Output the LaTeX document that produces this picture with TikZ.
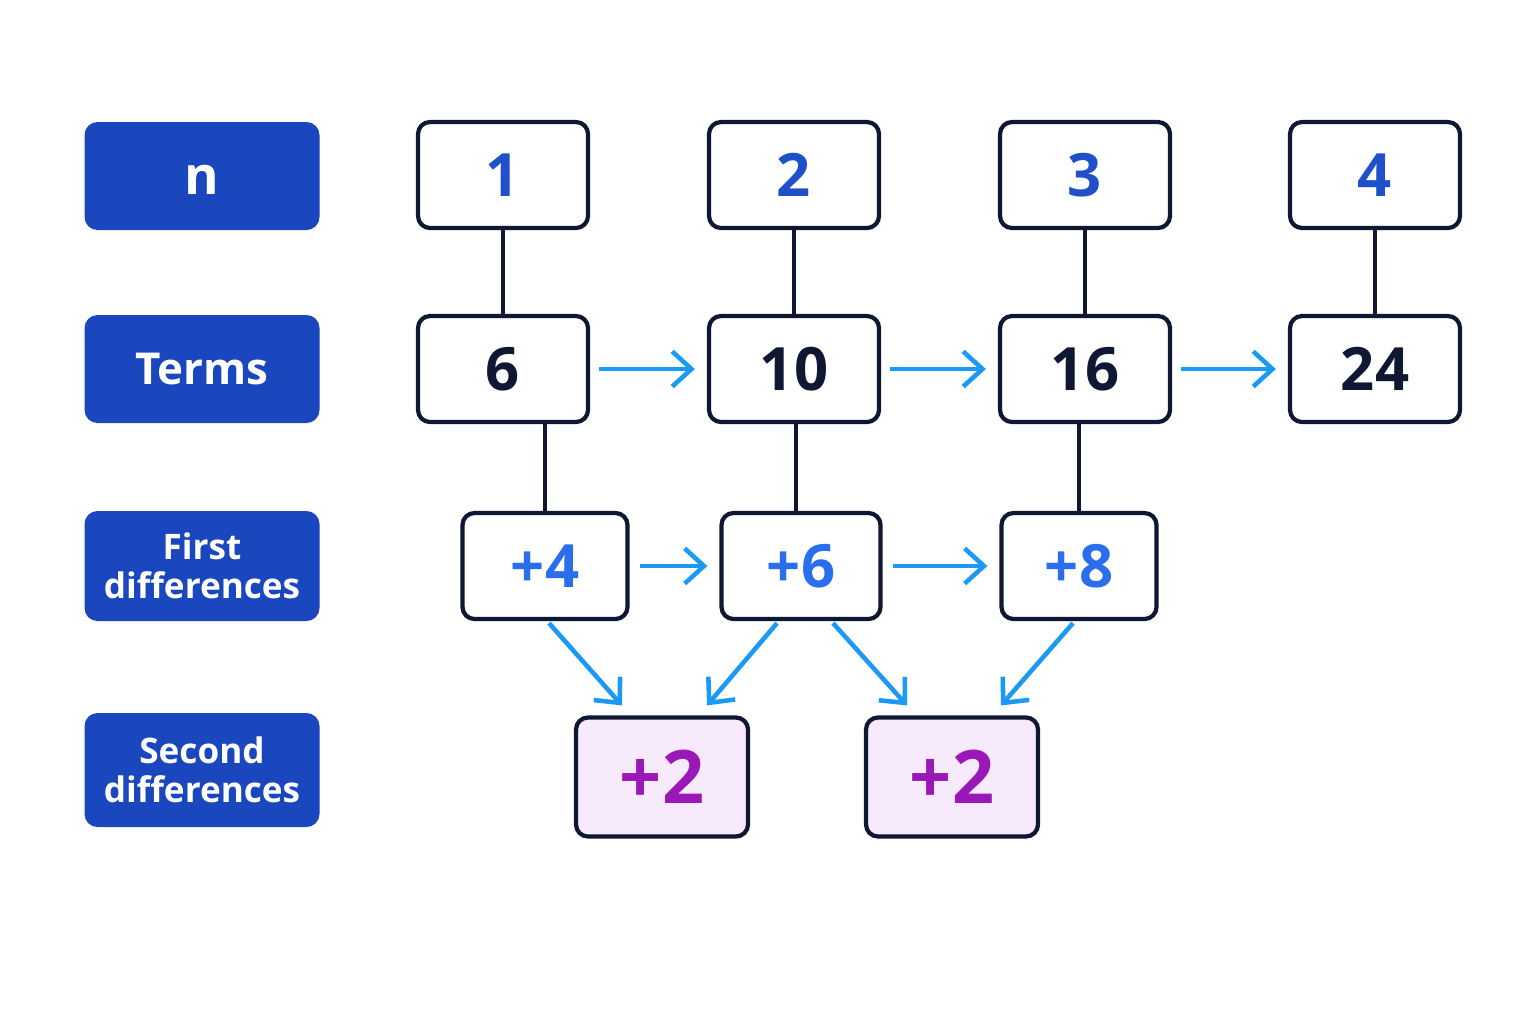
\documentclass[tikz,border=0pt]{standalone}
\usepackage{fontspec}
\setmainfont{Open Sans}
\usepackage{tikz}
\usetikzlibrary{arrows.meta}
\usetikzlibrary{calc}

\definecolor{labelblue}{HTML}{1A47BE}
\definecolor{nblue}{HTML}{1F4FC9}
\definecolor{diffblue}{HTML}{2A6EEE}
\definecolor{arrowblue}{HTML}{1A9AF5}
\definecolor{navy}{HTML}{0F1733}
\definecolor{purp}{HTML}{9A18B8}
\definecolor{lavender}{HTML}{F6EAFC}

\tikzset{
  rowlabel/.style={fill=labelblue, rounded corners=0.13cm, minimum width=2.35cm,
    minimum height=1.08cm, inner sep=0pt, align=center, text=white,
    font=\bfseries\fontsize{10}{11.2}\selectfont},
  numbox/.style={draw=navy, line width=1.2pt, rounded corners=0.12cm, fill=white,
    minimum width=1.7cm, minimum height=1.06cm, inner sep=0pt,
    font=\bfseries\fontsize{17}{17}\selectfont},
  secbox/.style={numbox, fill=lavender, text=purp, minimum width=1.72cm,
    minimum height=1.19cm, font=\bfseries\fontsize{21}{21}\selectfont},
  link/.style={draw=navy, line width=1pt},
  arrowline/.style={draw=arrowblue, line width=1.3pt,
    -{Straight Barb[length=5.5pt,width=10pt,line width=1.3pt]}}
}

\begin{document}
\begin{tikzpicture}
\useasboundingbox (0,0) rectangle (15.36,-10.24);

% row labels
\node[rowlabel, text height=0.36cm, font=\bfseries\fontsize{15}{15}\selectfont] (lab1) at (2.02,-1.76) {n};
\node[rowlabel, font=\bfseries\fontsize{12.5}{12.5}\selectfont] (lab2) at (2.02,-3.69) {Terms};
\node[rowlabel, minimum height=1.10cm] (lab3) at (2.02,-5.66) {First\\differences};
\node[rowlabel, minimum height=1.14cm] (lab4) at (2.02,-7.70) {Second\\differences};

% n and terms
\foreach \i/\x/\t in {1/5.03/6, 2/7.94/10, 3/10.85/16, 4/13.75/24}{
  \node[numbox, text=nblue] (n\i) at (\x,-1.75) {\i};
  \node[numbox, text=navy] (t\i) at (\x,-3.69) {\t};
  \draw[link] (n\i) -- (t\i);
}

% first differences
\node[numbox, text=diffblue, minimum width=1.65cm] (d1) at (5.45,-5.66) {+4};
\node[numbox, text=diffblue, minimum width=1.59cm] (d2) at (8.01,-5.66) {+6};
\node[numbox, text=diffblue, minimum width=1.55cm] (d3) at (10.79,-5.66) {+8};
\draw[link] (d1.north) -- (d1.north |- t1.south);
\draw[link] ([xshift=-0.05cm]d2.north) -- ([xshift=-0.05cm]d2.north |- t2.south);
\draw[link] (d3.north) -- (d3.north |- t3.south);

% second differences
\node[secbox] (s1) at (6.62,-7.77) {+2};
\node[secbox] (s2) at (9.52,-7.77) {+2};

% arrows
\foreach \a/\b in {t1/t2, t2/t3, t3/t4}
\draw[arrowline, shorten <=0.09cm, shorten >=0.12cm] (\a.east) -- (\b.west);
\foreach \a/\b in {d1/d2, d2/d3}
\draw[arrowline, shorten <=0.1cm, shorten >=0.12cm] (\a.east) -- (\b.west);
\draw[arrowline] ([xshift=0.04cm,yshift=-0.02cm]d1.south) -- ([xshift=-0.4cm,yshift=0.1cm]s1.north);
\draw[arrowline] ([xshift=-0.24cm,yshift=-0.02cm]d2.south) -- ([xshift=0.45cm,yshift=0.1cm]s1.north);
\draw[arrowline] ([xshift=0.32cm,yshift=-0.02cm]d2.south) -- ([xshift=-0.45cm,yshift=0.1cm]s2.north);
\draw[arrowline] ([xshift=-0.06cm,yshift=-0.02cm]d3.south) -- ([xshift=0.49cm,yshift=0.1cm]s2.north);
\end{tikzpicture}
\end{document}
